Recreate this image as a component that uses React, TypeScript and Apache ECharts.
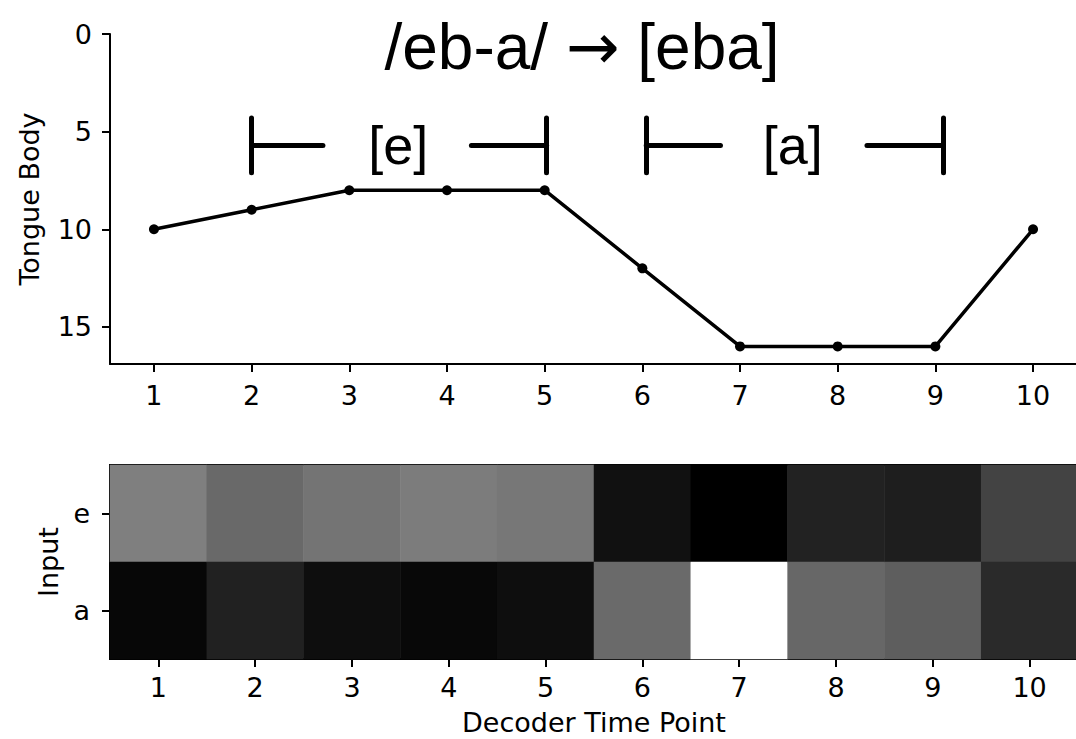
import React, { useEffect, useRef } from "react";
import * as echarts from "echarts";

// ---- data ----
const timePoints = [1, 2, 3, 4, 5, 6, 7, 8, 9, 10];
const tongueBody = [10, 9, 8, 8, 8, 12, 16, 16, 16, 10];
const yTicks = [0, 5, 10, 15];
const xLabels = ["1", "2", "3", "4", "5", "6", "7", "8", "9", "10"];
const inputs = ["e", "a"];
const attnE = [0.498, 0.41, 0.455, 0.486, 0.467, 0.067, 0.0, 0.133, 0.118, 0.263];
const attnA = [0.027, 0.129, 0.055, 0.031, 0.055, 0.416, 1.0, 0.404, 0.369, 0.165];
const titleLeft = "/eb-a/ ";
const titleArrow = "→";
const titleRight = " [eba]";
// bracket annotations in data coords: [xStart, xEnd] for the left/right pieces
const segLabels = ["[e]", "[a]"];
const segLabelX = [3.5, 7.54];
const segLeft = [[2.0, 2.73], [6.04, 6.8]];
const segRight = [[4.25, 5.02], [8.3, 9.08]];
const segY = 5.7;
const segBarTop = 4.3;
const segBarBottom = 7.1;

const FONT = "DejaVu Sans";
const FS = 27;

export default function App() {
  const ref = useRef<HTMLDivElement>(null);
  useEffect(() => {
    if (!ref.current) return;
    const chart = echarts.init(ref.current, null, { renderer: "svg" });

    const markData: any[] = [];
    for (let i = 0; i < segLeft.length; i++) {
      const [l0, l1] = segLeft[i];
      const [r0, r1] = segRight[i];
      markData.push([{ coord: [l0, segY] }, { coord: [l1, segY] }]);
      markData.push([{ coord: [l0, segBarTop] }, { coord: [l0, segBarBottom] }]);
      markData.push([{ coord: [r0, segY] }, { coord: [r1, segY] }]);
      markData.push([{ coord: [r1, segBarTop] }, { coord: [r1, segBarBottom] }]);
    }

    const heatData: any[] = [];
    for (let i = 0; i < timePoints.length; i++) {
      heatData.push([i, 0, attnE[i]]);
      heatData.push([i, 1, attnA[i]]);
    }

    const tickLabel = { color: "#000", fontFamily: FONT, fontSize: FS };
    const axisLine = { show: true, onZero: false, lineStyle: { color: "#000", width: 2 } };
    const axisTick = { show: true, length: 8, lineStyle: { color: "#000", width: 2 } };
    const nameStyle = { color: "#000", fontFamily: FONT, fontSize: FS };

    chart.setOption({
      animation: false,
      backgroundColor: "#fff",
      graphic: [
        {
          type: "text",
          x: 582,
          y: 47,
          style: {
            text: "{t|" + titleLeft + "}{r|" + titleArrow + "}{t|" + titleRight + "}",
            fill: "#000",
            align: "center",
            verticalAlign: "middle",
            rich: {
              t: { fontFamily: "Liberation Sans", fontSize: 64, fill: "#000", color: "#000" },
              r: { fontFamily: "DejaVu Sans", fontSize: 64, fill: "#000", color: "#000" },
            },
          },
        },
      ],
      grid: [
        { left: 110, top: 34, width: 967, height: 330, show: false, containLabel: false, outerBoundsMode: "none" },
        {
          left: 110,
          top: 465,
          width: 968,
          height: 194,
          show: true,
          containLabel: false,
          outerBoundsMode: "none",
          borderColor: "#000",
          borderWidth: 2,
          backgroundColor: "transparent",
        },
      ],
      xAxis: [
        {
          gridIndex: 0,
          type: "value",
          min: 0.55,
          max: 10.45,
          position: "bottom",
          axisLine,
          axisTick: { ...axisTick, customValues: timePoints },
          axisLabel: { ...tickLabel, margin: 18, customValues: timePoints },
          splitLine: { show: false },
        },
        {
          gridIndex: 1,
          type: "category",
          data: xLabels,
          axisLine: { show: false },
          axisTick: { ...axisTick, alignWithLabel: true },
          axisLabel: { ...tickLabel, margin: 15 },
          splitLine: { show: false },
          name: "Decoder Time Point",
          nameLocation: "middle",
          nameGap: 50,
          nameTextStyle: nameStyle,
        },
      ],
      yAxis: [
        {
          gridIndex: 0,
          type: "value",
          inverse: true,
          min: 0,
          max: 16.9,
          axisLine,
          axisTick: { ...axisTick, customValues: yTicks },
          axisLabel: { ...tickLabel, margin: 18, customValues: yTicks },
          splitLine: { show: false },
          name: "Tongue Body",
          nameLocation: "middle",
          nameGap: 67,
          nameTextStyle: nameStyle,
        },
        {
          gridIndex: 1,
          type: "category",
          inverse: true,
          data: inputs,
          axisLine: { show: false },
          axisTick: { ...axisTick, alignWithLabel: true },
          axisLabel: { ...tickLabel, margin: 20 },
          splitLine: { show: false },
          name: "Input",
          nameLocation: "middle",
          nameGap: 44,
          nameTextStyle: nameStyle,
        },
      ],
      visualMap: {
        show: false,
        seriesIndex: 2,
        min: 0,
        max: 1,
        inRange: { color: ["#000000", "#ffffff"] },
      },
      series: [
        {
          type: "line",
          xAxisIndex: 0,
          yAxisIndex: 0,
          data: timePoints.map((t, i) => [t, tongueBody[i]]),
          symbol: "circle",
          symbolSize: 10,
          lineStyle: { color: "#000", width: 3.5 },
          itemStyle: { color: "#000" },
          silent: true,
          markLine: {
            silent: true,
            symbol: "none",
            label: { show: false },
            lineStyle: { color: "#000", width: 5, type: "solid", cap: "round", opacity: 1 },
            data: markData,
          },
        },
        {
          type: "scatter",
          xAxisIndex: 0,
          yAxisIndex: 0,
          symbolSize: 0,
          silent: true,
          itemStyle: { opacity: 1, color: "#000" },
          data: segLabels.map((n, i) => ({ name: n, value: [segLabelX[i], segY] })),
          label: {
            show: true,
            position: "inside",
            formatter: "{b}",
            color: "#000",
            opacity: 1,
            fontFamily: "Liberation Sans",
            fontSize: 54,
          },
        },
        {
          type: "heatmap",
          xAxisIndex: 1,
          yAxisIndex: 1,
          data: heatData,
          silent: true,
          itemStyle: { borderWidth: 0 },
        },
      ],
    });
    return () => chart.dispose();
  }, []);
  return (
    <div
      ref={ref}
      style={{ position: "fixed", left: 0, top: 0, width: 1076, height: 739, background: "#fff" }}
    />
  );
}
